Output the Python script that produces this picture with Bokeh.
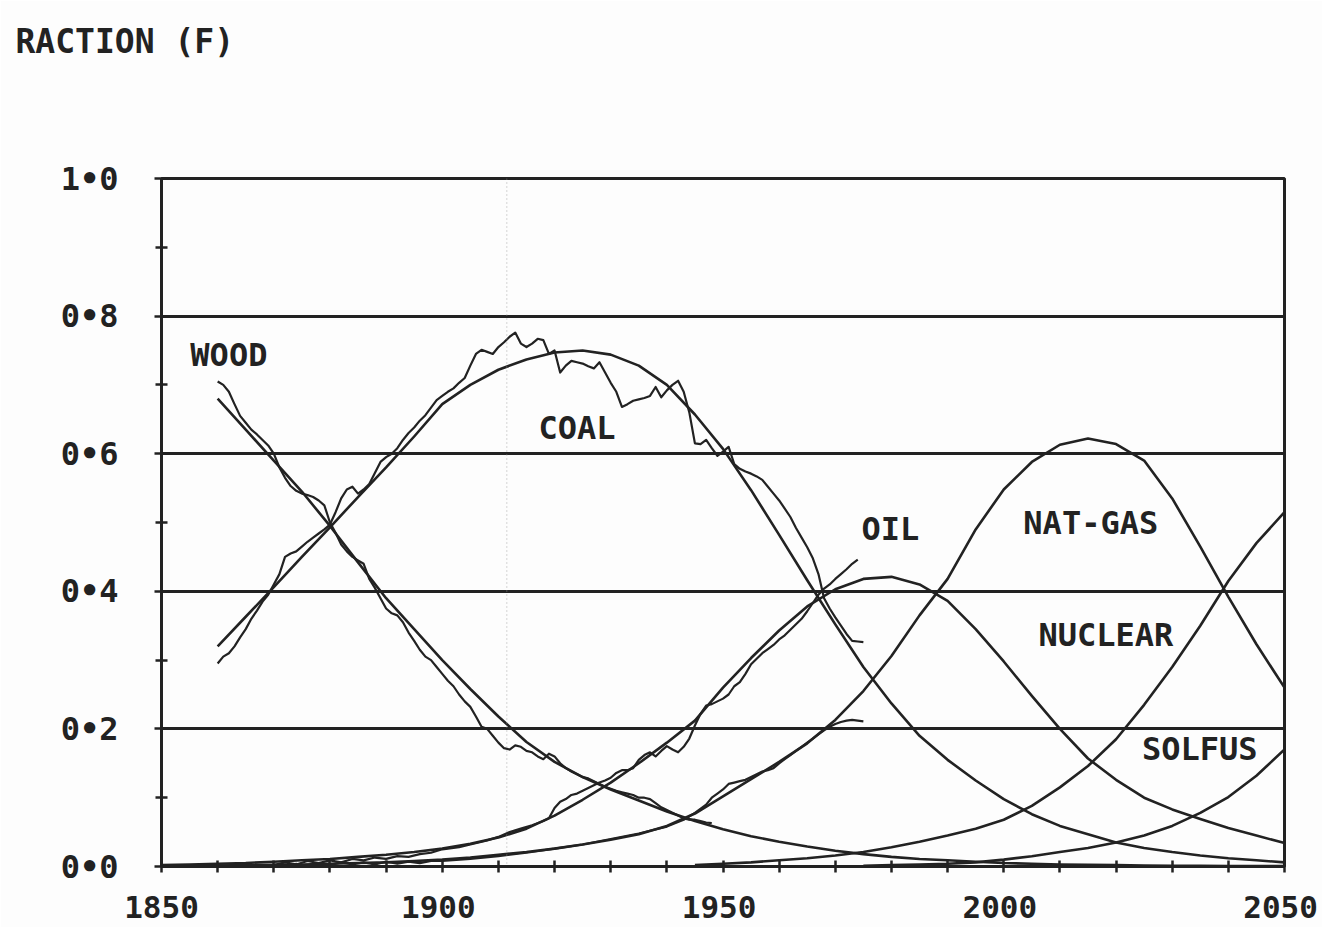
from bokeh.plotting import figure
from bokeh.models import FixedTicker, Label, Span, LinearAxis, Title
from bokeh.embed import file_html
from bokeh.resources import INLINE

# ---------------- data ----------------
# fitted (smooth) substitution curves
years_1850 = list(range(1850, 2051, 5))
years_1860 = list(range(1860, 2051, 5))
years_1945 = list(range(1945, 2051, 5))
years_1975 = list(range(1975, 2051, 5))

wood_fit = [0.68, 0.635, 0.59, 0.545, 0.495, 0.442, 0.39, 0.345, 0.30, 0.258,
            0.218, 0.181, 0.152, 0.13, 0.112, 0.096, 0.08, 0.066, 0.054, 0.044,
            0.036, 0.029, 0.023, 0.018, 0.014, 0.011, 0.009, 0.007, 0.005, 0.004,
            0.003, 0.0025, 0.002, 0.0015, 0.001, 0.001, 0.0008, 0.0006, 0.0005]
coal_fit = [0.32, 0.363, 0.406, 0.45, 0.493, 0.537, 0.58, 0.625, 0.672, 0.70,
            0.722, 0.737, 0.747, 0.75, 0.744, 0.728, 0.70, 0.657, 0.607, 0.547,
            0.482, 0.416, 0.352, 0.29, 0.237, 0.19, 0.155, 0.125, 0.098, 0.076,
            0.059, 0.047, 0.035, 0.027, 0.021, 0.016, 0.012, 0.009, 0.006]
oil_fit = [0.002, 0.003, 0.004, 0.005, 0.007, 0.009, 0.011, 0.014, 0.017, 0.021,
           0.026, 0.033, 0.042, 0.055, 0.074, 0.097, 0.122, 0.15, 0.18, 0.212,
           0.26, 0.303, 0.343, 0.378, 0.403, 0.418, 0.421, 0.41, 0.386, 0.345,
           0.298, 0.248, 0.2, 0.157, 0.126, 0.1, 0.083, 0.069, 0.056, 0.045, 0.034]
gas_fit = [0.001, 0.001, 0.0015, 0.002, 0.0025, 0.003, 0.004, 0.005, 0.006, 0.008,
           0.01, 0.013, 0.017, 0.021, 0.026, 0.032, 0.039, 0.047, 0.059, 0.077,
           0.102, 0.127, 0.152, 0.179, 0.213, 0.255, 0.306, 0.365, 0.418, 0.49,
           0.548, 0.588, 0.613, 0.622, 0.614, 0.59, 0.535, 0.465, 0.392, 0.323, 0.26]
nuclear_fit = [0.002, 0.004, 0.006, 0.009, 0.012, 0.016, 0.021, 0.028, 0.036, 0.045,
               0.055, 0.068, 0.088, 0.115, 0.146, 0.185, 0.235, 0.29, 0.35, 0.415,
               0.47, 0.515]
solfus_fit = [0.001, 0.002, 0.003, 0.004, 0.006, 0.01, 0.015, 0.021, 0.027, 0.035,
              0.045, 0.059, 0.078, 0.101, 0.132, 0.17]

# historical (noisy) statistics
wood_hist_years = list(range(1860, 1949))
wood_hist = [0.705, 0.70, 0.69, 0.672, 0.655, 0.645, 0.635, 0.628, 0.62, 0.612,
             0.60, 0.58, 0.565, 0.553, 0.546, 0.542, 0.54, 0.537, 0.532, 0.525,
             0.50, 0.485, 0.468, 0.458, 0.45, 0.445, 0.44, 0.418, 0.405, 0.39,
             0.375, 0.368, 0.365, 0.355, 0.34, 0.328, 0.315, 0.305, 0.30, 0.29,
             0.28, 0.27, 0.262, 0.25, 0.24, 0.232, 0.218, 0.203, 0.20, 0.19,
             0.18, 0.172, 0.17, 0.176, 0.174, 0.168, 0.166, 0.16, 0.156, 0.164,
             0.16, 0.15, 0.143, 0.138, 0.134, 0.13, 0.128, 0.124, 0.12, 0.116,
             0.113, 0.11, 0.108, 0.106, 0.104, 0.10, 0.10, 0.098, 0.092, 0.086,
             0.082, 0.078, 0.074, 0.07, 0.068, 0.068, 0.066, 0.064, 0.063]
coal_hist_years = list(range(1860, 1976))
coal_hist = [0.295, 0.305, 0.31, 0.32, 0.333, 0.345, 0.36, 0.372, 0.385, 0.395,
             0.41, 0.425, 0.45, 0.455, 0.458, 0.465, 0.472, 0.478, 0.484, 0.49,
             0.497, 0.515, 0.535, 0.548, 0.552, 0.542, 0.548, 0.556, 0.572, 0.588,
             0.595, 0.60, 0.608, 0.62, 0.63, 0.638, 0.648, 0.656, 0.667, 0.678,
             0.684, 0.69, 0.695, 0.703, 0.71, 0.728, 0.745, 0.751, 0.748, 0.745,
             0.755, 0.762, 0.77, 0.776, 0.76, 0.755, 0.76, 0.767, 0.765, 0.745,
             0.75, 0.718, 0.728, 0.735, 0.733, 0.731, 0.727, 0.724, 0.733, 0.718,
             0.703, 0.69, 0.668, 0.672, 0.677, 0.679, 0.681, 0.684, 0.697, 0.682,
             0.692, 0.70, 0.706, 0.69, 0.66, 0.615, 0.614, 0.62, 0.608, 0.597,
             0.603, 0.61, 0.585, 0.578, 0.574, 0.571, 0.567, 0.562, 0.552, 0.542,
             0.532, 0.52, 0.508, 0.492, 0.478, 0.464, 0.448, 0.425, 0.39, 0.375,
             0.362, 0.35, 0.338, 0.328, 0.327, 0.326]
oil_hist_years = [1870, 1872, 1874, 1876, 1878, 1880, 1882, 1884, 1886, 1888,
                  1890, 1892, 1894, 1896, 1898, 1900, 1903, 1905, 1908, 1910,
                  1912, 1914, 1916, 1918, 1919, 1920, 1921, 1922, 1923, 1924,
                  1925, 1926, 1927, 1928, 1929, 1930, 1931, 1932, 1933, 1934,
                  1935, 1936, 1937, 1938, 1939, 1940, 1941, 1942, 1943, 1944,
                  1945, 1946, 1947, 1948, 1949, 1950, 1951, 1952, 1953, 1954,
                  1955, 1956, 1957, 1958, 1959, 1960, 1961, 1962, 1963, 1964,
                  1965, 1966, 1967, 1968, 1969, 1970, 1971, 1972, 1973, 1974]
oil_hist = [0.002, 0.006, 0.003, 0.008, 0.005, 0.009, 0.006, 0.011, 0.009, 0.013,
            0.011, 0.015, 0.014, 0.018, 0.02, 0.025, 0.028, 0.032, 0.038, 0.043,
            0.05, 0.055, 0.06, 0.066, 0.07, 0.085, 0.094, 0.098, 0.104, 0.106,
            0.11, 0.114, 0.118, 0.122, 0.125, 0.129, 0.136, 0.14, 0.14, 0.143,
            0.155, 0.162, 0.166, 0.16, 0.168, 0.175, 0.17, 0.166, 0.174, 0.186,
            0.205, 0.222, 0.234, 0.236, 0.24, 0.244, 0.25, 0.262, 0.268, 0.28,
            0.294, 0.302, 0.31, 0.316, 0.322, 0.33, 0.336, 0.344, 0.352, 0.36,
            0.371, 0.383, 0.395, 0.404, 0.41, 0.418, 0.425, 0.432, 0.44, 0.446]
gas_hist_years = [1872, 1874, 1876, 1878, 1880, 1882, 1884, 1886, 1888, 1890,
                  1892, 1894, 1896, 1898, 1900, 1905, 1910, 1915, 1920, 1925,
                  1930, 1935, 1940, 1943, 1945, 1947, 1948, 1949, 1950, 1951,
                  1952, 1953, 1954, 1955, 1956, 1957, 1958, 1959, 1960, 1961,
                  1962, 1963, 1964, 1965, 1966, 1967, 1968, 1969, 1970, 1971,
                  1972, 1973, 1975]
gas_hist = [0.001, 0.004, 0.001, 0.005, 0.002, 0.006, 0.003, 0.006, 0.003, 0.007,
            0.004, 0.007, 0.005, 0.008, 0.008, 0.011, 0.015, 0.02, 0.026, 0.032,
            0.04, 0.048, 0.058, 0.068, 0.078, 0.09, 0.10, 0.106, 0.112, 0.12,
            0.122, 0.124, 0.126, 0.13, 0.134, 0.138, 0.14, 0.143, 0.15, 0.156,
            0.162, 0.168, 0.174, 0.18, 0.186, 0.192, 0.198, 0.203, 0.207, 0.21,
            0.212, 0.213, 0.211]

# axis ticks and labels
x_ticks = [1850, 1900, 1950, 2000, 2050]
x_tick_labels = ["1850", "1900", "1950", "2000", "2050"]
x_minor_ticks = list(range(1850, 2051, 10))
y_ticks = [0.0, 0.2, 0.4, 0.6, 0.8, 1.0]
y_tick_labels = ["0\u20220", "0\u20222", "0\u20224", "0\u20226", "0\u20228", "1\u20220"]
y_minor_ticks = [0.1, 0.3, 0.5, 0.7, 0.9]
y_grid = [0.2, 0.4, 0.6, 0.8]

curve_names = ["WOOD", "COAL", "OIL", "NAT-GAS", "NUCLEAR", "SOLFUS"]
title_text = "RACTION (F)"

# ---------------- layout / style ----------------
INK = "#222222"
FONT = "DejaVu Sans Mono"
name_pos = [(1862.0, 0.744), (1924.0, 0.637), (1979.8, 0.491),
            (2015.5, 0.499), (2018.2, 0.336), (2034.9, 0.171)]
x_label_shift = -0.7   # printed labels sit slightly left of their ticks
x_label_pos = [max(x_ticks[0], t + x_label_shift) for t in x_ticks]

p = figure(width=1322, height=927, x_range=(1850, 2050), y_range=(0, 1.0),
           output_backend="svg", toolbar_location=None, title=None,
           min_border_left=161, min_border_right=38,
           min_border_top=178, min_border_bottom=61)
p.background_fill_color = "#fdfdfd"
p.border_fill_color = "#fdfdfd"
p.outline_line_color = INK
p.outline_line_width = 3

p.xgrid.visible = False
p.ygrid.ticker = FixedTicker(ticks=y_grid)
p.ygrid.grid_line_color = INK
p.ygrid.grid_line_width = 3

xa = p.xaxis[0]
ya = p.yaxis[0]

# x axis: tick marks every 10 years, labels every 50 years
xa.ticker = FixedTicker(ticks=x_label_pos, minor_ticks=x_minor_ticks)
xa.major_label_overrides = {v: s for v, s in zip(x_label_pos, x_tick_labels)}
xa.major_tick_in = 0
xa.major_tick_out = 0
xa.major_label_standoff = 23
xa.major_label_text_font_size = "31px"
# y axis
ya.ticker = FixedTicker(ticks=y_ticks, minor_ticks=y_minor_ticks)
ya.major_label_overrides = {v: s for v, s in zip(y_ticks, y_tick_labels)}
ya.major_tick_in = 7
ya.major_tick_out = 7
ya.major_label_standoff = 36
ya.major_label_text_font_size = "32px"

for ax in (xa, ya):
    ax.axis_line_color = INK
    ax.axis_line_width = 3
    ax.major_tick_line_color = INK
    ax.minor_tick_line_color = INK
    ax.major_tick_line_width = 2.5
    ax.minor_tick_line_width = 2.5
    ax.minor_tick_in = 6
    ax.minor_tick_out = 6
    ax.major_label_text_font = FONT
    ax.major_label_text_font_style = "bold"
    ax.major_label_text_color = INK

# invisible spacer above the frame, so the heading sits high on the page
spacer_tick = x_ticks[2]
spacer = LinearAxis(ticker=FixedTicker(ticks=[spacer_tick]), axis_line_color=None,
                    major_tick_in=0, major_tick_out=118,
                    minor_tick_in=0, minor_tick_out=0,
                    major_tick_line_color=None, minor_tick_line_color=None,
                    major_label_overrides={spacer_tick: ""},
                    major_label_text_font_size="0px",
                    major_label_standoff=0)
p.add_layout(spacer, "above")
p.add_layout(Title(text=title_text, align="left", offset=-146, standoff=0,
                   vertical_align="bottom", text_font=FONT,
                   text_font_style="bold", text_font_size="33px",
                   text_color=INK), "above")

# faint scan fold line
p.add_layout(Span(location=1911.5, dimension="height", line_color="#9a9a9a",
                  line_width=1, line_dash="1 3", line_alpha=0.8))

LW = 2.6
for xs, ys in [(years_1860, wood_fit), (years_1860, coal_fit),
               (years_1850, oil_fit), (years_1850, gas_fit),
               (years_1945, nuclear_fit), (years_1975, solfus_fit)]:
    p.line(xs, ys, line_color=INK, line_width=LW, line_join="round")

for xs, ys in [(wood_hist_years, wood_hist), (coal_hist_years, coal_hist),
               (oil_hist_years, oil_hist), (gas_hist_years, gas_hist)]:
    p.line(xs, ys, line_color=INK, line_width=2.2, line_join="round")

for name, (lx, ly) in zip(curve_names, name_pos):
    p.add_layout(Label(x=lx, y=ly, text=name, text_align="center",
                       text_baseline="middle", text_font=FONT,
                       text_font_style="bold", text_font_size="32px",
                       text_color=INK))

open("out.html", "w").write(file_html(p, INLINE))
